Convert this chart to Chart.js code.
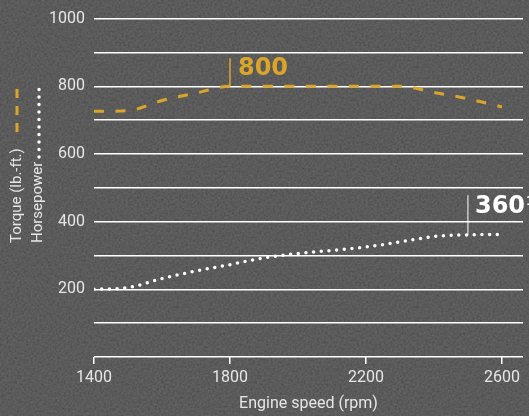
<!DOCTYPE html>
<html lang="en">
<head>
<meta charset="UTF-8">
<title>Torque and horsepower</title>
<script src="https://cdn.jsdelivr.net/npm/chart.js"></script>
<style>
  html, body { margin: 0; padding: 0; }
  body {
    width: 529px; height: 416px; overflow: hidden;
    background-color: #464646;
    background-image: url("data:image/svg+xml;utf8,<svg xmlns='http://www.w3.org/2000/svg' width='240' height='240'><filter id='n'><feTurbulence type='fractalNoise' baseFrequency='0.45' numOctaves='3' stitchTiles='stitch'/><feColorMatrix values='1 0 0 0 0  1 0 0 0 0  1 0 0 0 0  0 0 0 0 0.18'/></filter><rect width='100%' height='100%' filter='url(%23n)'/></svg>");
  }
  canvas { display: block; }
</style>
</head>
<body>
<canvas id="chart" width="529" height="416"></canvas>

<script>
  // engine speed (rpm) and the two curves
  const rpm = [1400, 1500, 1600, 1700, 1800, 1900, 2000, 2100, 2200, 2300, 2400, 2500, 2600];
  const torque = [726, 728, 758, 780, 800, 800, 800, 800, 800, 800, 782, 763, 739];
  const horsepower = [200, 205, 232, 254, 273, 293, 306, 315, 325, 340, 356, 361, 362];
  const xTicks = [1400, 1800, 2200, 2600];
  const peakTorque = { rpm: 1800, value: 800, label: '800' };
  const peakPower = { rpm: 2500, value: 360, label: '360' };

  const gold = '#dba52a';
  const textCol = '#e6e6e6';
  const font = 'Roboto, "Liberation Sans", sans-serif';

  const extras = {
    id: 'extras',
    afterDatasetsDraw(chart) {
      const { ctx, scales: { x, y } } = chart;
      ctx.save();

      // peak torque marker
      let px = x.getPixelForValue(peakTorque.rpm), py = y.getPixelForValue(peakTorque.value);
      ctx.strokeStyle = gold; ctx.lineWidth = 1.5;
      ctx.beginPath(); ctx.moveTo(px, py); ctx.lineTo(px, py - 28); ctx.stroke();
      ctx.fillStyle = gold;
      ctx.font = 'bold 24px "DejaVu Sans", sans-serif';
      ctx.textAlign = 'left'; ctx.textBaseline = 'alphabetic';
      ctx.fillText(peakTorque.label, px + 8, py - 11);

      // peak horsepower marker
      px = x.getPixelForValue(peakPower.rpm); py = y.getPixelForValue(peakPower.value);
      ctx.strokeStyle = '#ffffff'; ctx.lineWidth = 1;
      ctx.beginPath(); ctx.moveTo(px, py); ctx.lineTo(px, py - 40); ctx.stroke();
      ctx.fillStyle = '#ffffff';
      ctx.fillText(peakPower.label, px + 7, py - 22);
      const w = ctx.measureText(peakPower.label).width;
      ctx.font = 'bold 12px "DejaVu Sans", sans-serif';
      ctx.fillText('1', px + 8 + w, py - 30);

      ctx.restore();
    },
    afterDraw(chart) {
      // rotated y axis titles with their line keys
      const { ctx } = chart;
      ctx.save();
      ctx.fillStyle = textCol;
      ctx.font = '15px ' + font;
      ctx.textAlign = 'left'; ctx.textBaseline = 'alphabetic';

      ctx.save();
      ctx.translate(21, 243); ctx.rotate(-Math.PI / 2);
      ctx.fillText('Torque (lb.-ft.)', 0, 0);
      ctx.strokeStyle = gold; ctx.lineWidth = 3; ctx.setLineDash([9, 8]);
      ctx.beginPath(); ctx.moveTo(111, -4); ctx.lineTo(160, -4); ctx.stroke();
      ctx.restore();

      ctx.save();
      ctx.translate(42, 243); ctx.rotate(-Math.PI / 2);
      ctx.fillText('Horsepower', 0, 0);
      ctx.strokeStyle = '#ffffff'; ctx.lineWidth = 3.5; ctx.lineCap = 'round';
      ctx.setLineDash([0, 7.5]);
      ctx.beginPath(); ctx.moveTo(86, -3); ctx.lineTo(158, -3); ctx.stroke();
      ctx.restore();

      ctx.restore();
    }
  };

  new Chart(document.getElementById('chart'), {
    type: 'line',
    data: {
      datasets: [
        {
          label: 'Torque (lb.-ft.)',
          data: rpm.map((r, i) => ({ x: r, y: torque[i] })),
          borderColor: gold, borderWidth: 3, borderDash: [10, 11.5],
          pointRadius: 0, fill: false, cubicInterpolationMode: 'monotone'
        },
        {
          label: 'Horsepower',
          data: rpm.map((r, i) => ({ x: r, y: horsepower[i] })),
          borderColor: '#ffffff', borderWidth: 3.5, borderDash: [0, 7.7], borderCapStyle: 'round',
          pointRadius: 0, fill: false, cubicInterpolationMode: 'monotone'
        }
      ]
    },
    options: {
      responsive: false,
      animation: false,
      layout: { padding: { top: 15, right: 6, left: 0, bottom: 0 } },
      plugins: { legend: { display: false }, tooltip: { enabled: false } },
      scales: {
        x: {
          type: 'linear', min: 1400, max: 2662,
          afterBuildTicks: s => { s.ticks = xTicks.map(v => ({ value: v })); },
          afterFit: s => { s.height = 59; },
          grid: { drawOnChartArea: false, drawTicks: true, tickLength: 7, color: '#ffffff', lineWidth: 1.5 },
          border: { display: false },
          ticks: { color: textCol, font: { family: font, size: 16 }, padding: 4, maxRotation: 0, callback: v => String(v) },
          title: { display: true, text: 'Engine speed (rpm)', color: textCol, font: { family: font, size: 16 }, padding: { top: 4, bottom: 2 } }
        },
        y: {
          min: 0, max: 1000,
          afterFit: s => { s.width = 94; },
          grid: { color: '#ffffff', lineWidth: 1.5, drawTicks: false },
          border: { display: false },
          ticks: {
            stepSize: 100, padding: 9, color: textCol, font: { family: font, size: 16 },
            callback: v => (v > 0 && v % 200 === 0) ? String(v) : ''
          }
        }
      }
    },
    plugins: [extras]
  });
</script>
</body>
</html>
